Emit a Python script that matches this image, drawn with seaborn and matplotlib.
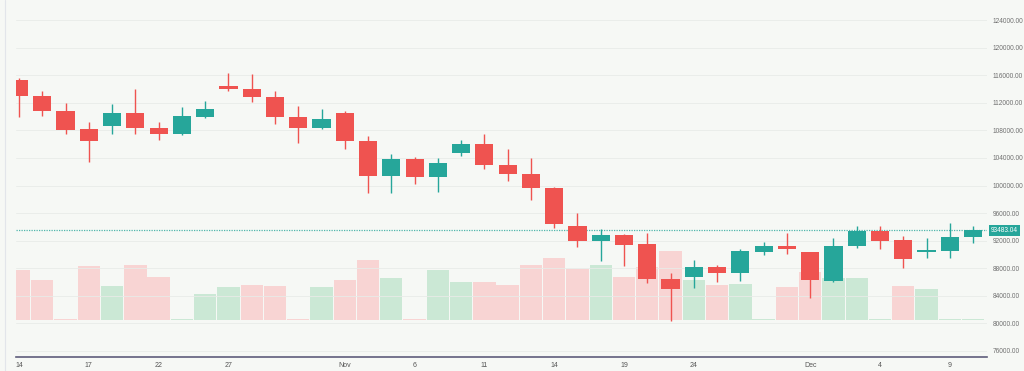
import matplotlib
matplotlib.use("Agg")

import numpy as np
import pandas as pd
import matplotlib.pyplot as plt
import matplotlib.transforms as mtransforms
from matplotlib.lines import Line2D
import seaborn as sns

# ======================
# DATA
# ======================
open_ = [115345, 113060, 110790, 108220, 108610, 110590, 108320, 107450, 110010, 114520,
         114080, 112870, 110010, 108320, 110500, 106520, 101430, 103850, 101190, 104680,
         105990, 102980, 101670, 99590, 94110, 91970, 92800, 91450, 86400, 86650,
         88190, 87230, 90330, 91240, 90280, 86150, 91200, 93380, 92070, 90330,
         90520, 92550]
high = [115600, 113790, 112040, 109280, 111810, 114040, 109190, 111370, 112290, 116320,
        116170, 113750, 111610, 111080, 110840, 107240, 104580, 104190, 103960, 106620,
        107490, 105270, 104040, 99830, 95960, 93720, 92900, 93050, 87230, 89160,
        88440, 90720, 91830, 93130, 90350, 92320, 94110, 94110, 92650, 92320,
        94590, 94110]
low = [109920, 110150, 107490, 103460, 107450, 107450, 106620, 107350, 109770, 113790,
       112190, 108990, 106230, 108200, 105270, 98870, 98870, 100170, 99100, 104290,
       102360, 100700, 97890, 93860, 91010, 89060, 88290, 85860, 80330, 85050,
       85920, 86110, 89890, 90040, 83680, 86010, 90950, 90760, 87960, 89500,
       89500, 91590]
close = [113060, 110790, 108120, 106470, 110590, 108320, 107530, 110110, 111080, 114080,
         112830, 110010, 108320, 109630, 106470, 101430, 103850, 101190, 103230, 105990,
         102980, 101630, 99680, 94360, 91970, 92800, 91350, 86400, 84950, 88190,
         87230, 90470, 91240, 90760, 86250, 91240, 93380, 91970, 89310, 90620,
         92550, 93483.04]

volume = [50, 39.7, 1, 54, 34.3, 55, 43.3, 1, 26, 33,
          35, 33.7, 1, 32.7, 40, 60, 41.7, 1, 50, 38,
          38, 35, 55.3, 62.3, 51.3, 55, 43.3, 52.7, 69.3, 40,
          35, 36, 1, 33, 47.7, 42.3, 41.7, 1, 34.3, 30.7,
          1, 1]
vol_dir = ["down", "down", "down", "down", "up", "down", "down", "up", "up", "up",
           "down", "down", "down", "up", "down", "down", "up", "down", "up", "up",
           "down", "down", "down", "down", "down", "up", "down", "down", "down", "up",
           "down", "up", "up", "down", "down", "up", "up", "up", "down", "up",
           "up", "up"]

tick_pos = [0, 3, 6, 9, 14, 17, 20, 23, 26, 29, 34, 37, 40]
tick_labels = ["14", "17", "22", "27", "Nov", "6", "11", "14", "19", "24", "Dec", "4", "9"]
price_ticks = list(range(76000, 124001, 4000))
last_price = 93483.04

# ======================
# STYLE
# ======================
BG = "#f6f8f5"
UP = "#26a69a"
DOWN = "#ef5350"
VOL_UP = "#cbe8d5"
VOL_DOWN = "#f8d4d3"

sns.set_theme(style="white")
plt.rcParams["font.family"] = ["Liberation Sans", "DejaVu Sans"]

df = pd.DataFrame({
    "idx": np.arange(len(open_)),
    "open": open_, "high": high, "low": low, "close": close,
    "volume": volume, "dir": vol_dir,
})
df["up"] = df["close"] >= df["open"]
df["color"] = np.where(df["up"], UP, DOWN)

fig = plt.figure(figsize=(10.24, 3.71), dpi=100, facecolor=BG)
ax = fig.add_axes([16 / 1024, 14.3 / 371, 971 / 1024, 356.7 / 371])
ax_vol = ax.twinx()
ax.yaxis.tick_right()

# volume behind, prices on top
ax_vol.set_zorder(1)
ax.set_zorder(2)
ax.patch.set_visible(False)
ax_vol.patch.set_visible(False)

# ======================
# VOLUME
# ======================
sns.barplot(
    data=df, x="idx", y="volume", hue="dir",
    palette={"up": VOL_UP, "down": VOL_DOWN},
    dodge=False, width=0.96, errorbar=None, legend=False,
    saturation=1, linewidth=0, ax=ax_vol,
)
ax_vol.set_ylim(-36.7, 320)
ax_vol.set_yticks([])
ax_vol.set_xlabel("")
ax_vol.set_ylabel("")
for s in ax_vol.spines.values():
    s.set_visible(False)

# ======================
# CANDLES
# ======================
ax.vlines(df["idx"], df["low"], df["high"], colors=df["color"], lw=1, zorder=2)
body_lo = df[["open", "close"]].min(axis=1)
body_h = (df["open"] - df["close"]).abs()
ax.bar(df["idx"], body_h, bottom=body_lo, width=0.78, color=df["color"],
       linewidth=0, zorder=3)

# last price line + label
ax.axhline(last_price, color=UP, lw=0.9, ls=(0, (1, 1)), alpha=0.8, zorder=1)
trans = mtransforms.blended_transform_factory(ax.transAxes, ax.transData)
ax.text(1.004, last_price, f"{last_price:.2f}", transform=trans, ha="left", va="center",
        fontsize=4.7, color="white", clip_on=False,
        bbox=dict(boxstyle="square,pad=0.35", fc=UP, ec="none"))

# ======================
# AXES
# ======================
ax.set_xlim(-0.13, 41.6)
ax.set_ylim(75100, 126980)
ax.set_xticks(tick_pos)
ax.set_xticklabels(tick_labels)
ax.set_yticks(price_ticks)
ax.set_yticklabels([f"{p:.2f}" for p in price_ticks])
ax.tick_params(axis="y", length=0, pad=4, labelsize=4.7, labelcolor="#6f6f6f")
ax.tick_params(axis="x", length=0, pad=4, labelsize=5, labelcolor="#555555")
ax.grid(axis="y", color="#e8ebe8", lw=0.6)
ax.grid(axis="x", visible=False)
ax.set_axisbelow(True)
for name, s in ax.spines.items():
    s.set_visible(name == "bottom")
ax.spines["bottom"].set_color("#5e5d7b")
ax.spines["bottom"].set_linewidth(1.2)

fig.add_artist(Line2D([5 / 1024, 5 / 1024], [0, 1], color="#e2e5ea", lw=0.8))

fig.savefig("out.png", dpi=100, facecolor=BG)
